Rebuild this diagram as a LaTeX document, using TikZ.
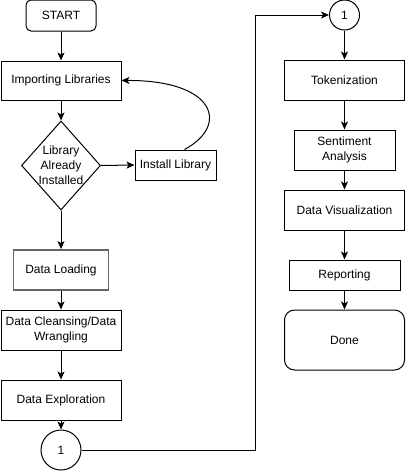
\documentclass[tikz,border=0pt]{standalone}
\usepackage{fontspec}
\setmainfont{Liberation Sans}
\usetikzlibrary{shapes.geometric,arrows.meta}
\begin{document}
\begin{tikzpicture}[x=1pt,y=-1pt,
  every node/.style={font=\fontsize{12}{15}\selectfont, inner sep=0pt, align=center},
  box/.style={draw, line width=1pt, rectangle},
  circ/.style={draw, line width=1pt, circle},
  arr/.style={line width=1pt, -{Stealth[length=8pt,width=7pt,inset=2pt]}},
  ln/.style={line width=1pt}]
\useasboundingbox (0,0) rectangle (405,471);
\fill[white] (0,0) rectangle (405,471);
% left column
\node[box, rounded corners=5pt, minimum width=70, minimum height=31] (start) at (61,15.5) {START};
\node[box, minimum width=120, minimum height=39] (imp) at (61,80.5) {Importing Libraries};
\node[draw, line width=1pt, diamond, minimum width=79, minimum height=89] (dec) at (61,165.5) {};
\node (dectxt) at (61,165.5) {Library\\Already\\Installed};
\node[box, minimum width=81, minimum height=30] (install) at (175.5,165) {Install Library};
\node[box, draw=black!60, line width=1.8pt, minimum width=95, minimum height=40] (load) at (61,270) {Data Loading};
\node[box, minimum width=120, minimum height=40] (clean) at (61,330) {Data Cleansing/Data\\Wrangling};
\node[box, minimum width=120, minimum height=40] (explore) at (61,400) {Data Exploration};
\node[circ, minimum size=40] (c1) at (61,450) {1};
% right column
\node[circ, minimum size=30] (c2) at (344.5,15) {1};
\node[box, minimum width=120, minimum height=40] (tok) at (344.5,80) {Tokenization};
\node[box, minimum width=101, minimum height=40] (sent) at (344.5,150) {Sentiment\\Analysis};
\node[box, minimum width=120, minimum height=40] (vis) at (344.5,210) {Data Visualization};
\node[box, minimum width=111, minimum height=30] (rep) at (344.5,275) {Reporting};
\node[box, rounded corners=10pt, minimum width=120, minimum height=60] (done) at (344.5,340) {Done};
\coordinate (j1) at (255,450);
\coordinate (j2) at (255,15);
% connectors
\draw[arr] (start) -- (imp);
\draw[arr] (imp) -- (dec);
\draw[arr] (dec.east) -- (install.west);
\draw[arr] ([xshift=9pt]install.north) .. controls (230,125) and (215,80) .. (imp.east);
\draw[arr] (dec.south) -- (load.north);
\draw[arr] (load) -- (clean);
\draw[arr] (clean) -- (explore);
\draw[arr] (explore) -- (c1);
\draw[arr] (c1.east) -- (j1) -- (j2) -- (c2.west);
\draw[arr] (c2) -- (tok);
\draw[arr] (tok) -- (sent);
\draw[arr] (sent) -- (vis);
\draw[arr] (vis) -- (rep);
\draw[arr] (rep) -- (done);
\end{tikzpicture}
\end{document}
